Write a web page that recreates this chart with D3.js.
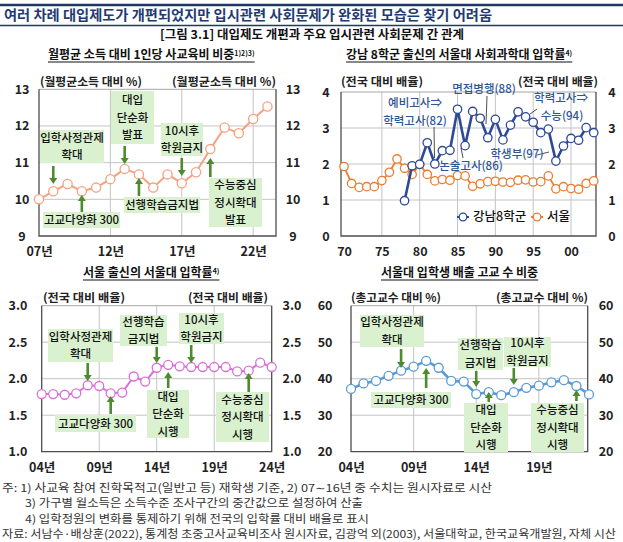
<!DOCTYPE HTML>
<html>
  <head>
    <meta charset="utf-8">
    <title>대입제도 개편과 주요 입시관련 사회문제 간 관계</title>
    <style>
      body { margin: 0; background: #fff; }
      svg text { font-family: 'Noto Sans CJK KR', 'Noto Sans', sans-serif; }
    </style>
  </head>
  <body>
    <script src="https://cdn.jsdelivr.net/npm/d3@7"></script>
    <script>
      // 월평균 소득 대비 1인당 사교육비 비중 (%)
      var incomeYears = [2007, 2008, 2009, 2010, 2011, 2012, 2013, 2014, 2015, 2016, 2017, 2018, 2019, 2020, 2021, 2022, 2023];
      var incomeShare = [10.0, 10.22, 10.42, 10.22, 10.32, 10.55, 10.83, 10.68, 10.32, 10.68, 10.44, 10.74, 11.37, 11.96, 11.8, 12.19, 12.53];

      // 강남 8학군 / 서울 출신 서울대 사회과학대 입학률 (전국 대비 배율)
      var snuYears = [1970, 1971, 1972, 1973, 1974, 1975, 1976, 1977, 1978, 1979, 1980, 1981, 1982, 1983, 1984, 1985, 1986,
        1987, 1988, 1989, 1990, 1991, 1992, 1993, 1994, 1995, 1996, 1997, 1998, 1999, 2000, 2001, 2002, 2003];
      var seoulRatio = [1.93, 1.46, 1.35, 1.37, 1.37, 1.54, 1.77, 2.14, 1.88, 1.71, 1.99, 1.71, 1.53, 1.57, 1.55, 1.68, 1.67,
        1.38, 1.45, 1.51, 1.52, 1.50, 1.49, 1.55, 1.56, 1.50, 1.51, 1.67, 1.31, 1.37, 1.32, 1.30, 1.46, 1.53];
      var gangnamYears = [1978, 1979, 1980, 1981, 1982, 1983, 1984, 1985, 1986, 1987, 1988, 1989, 1990,
        1991, 1992, 1993, 1994, 1995, 1996, 1997, 1998, 1999, 2000, 2001, 2002, 2003];
      var gangnamRatio = [0.98, 1.95, 1.99, 2.59, 2.0, 2.37, 2.38, 3.52, 2.51, 3.46, 3.27, 2.73, 3.24,
        2.67, 3.08, 3.45, 3.31, 3.16, 2.87, 2.97, 2.08, 2.5, 2.71, 2.66, 3.01, 2.87];

      // 서울 출신의 서울대 입학률 (전국 대비 배율)
      var seoulYears = [2004, 2005, 2006, 2007, 2008, 2009, 2010, 2011, 2012, 2013, 2014, 2015, 2016, 2017, 2018, 2019, 2020, 2021, 2022, 2023, 2024];
      var seoulSnuRatio = [1.79, 1.79, 1.78, 1.80, 1.91, 1.90, 1.80, 1.81, 2.03, 1.96, 2.15, 2.19, 2.17, 2.16, 2.16, 2.16, 2.16, 2.10, 2.11, 2.22, 2.16];

      // 서울대 입학생 배출 고교 수 비중 (%)
      var schoolYears = [2004, 2005, 2006, 2007, 2008, 2009, 2010, 2011, 2012, 2013, 2014, 2015, 2016, 2017, 2018, 2019, 2020, 2021, 2022, 2023];
      var schoolShare = [37.2, 38.7, 39.4, 40.8, 42.2, 43.3, 44.9, 43.0, 39.4, 39.2, 35.8, 36.3, 35.5, 36.3, 37.5, 38.1, 39.0, 39.6, 38.0, 35.7];

      var footnotes = [
        '주: 1) 사교육 참여 진학목적고(일반고 등) 재학생 기준,   2) 07∼16년 중 수치는 원시자료로 시산',
        '3) 가구별 월소득은 소득수준 조사구간의 중간값으로 설정하여 산출',
        '4) 입학정원의 변화를 통제하기 위해 전국의 입학률 대비 배율로 표시',
        '자료: 서남수·배상훈(2022), 통계청 초중고사교육비조사 원시자료, 김광억 외(2003), 서울대학교, 한국교육개발원, 자체 시산'
      ];

      var boxFill = '#d9f1cf',
        arrowColor = '#4e8a2e';

      var svg = d3.select('body').append('svg')
          .attr('width', 623)
          .attr('height', 542);

      // header
      svg.append('line').attr('x1', 0).attr('x2', 623).attr('y1', 5).attr('y2', 5)
        .attr('stroke', '#1f3864').attr('stroke-width', 2.5);
      svg.append('line').attr('x1', 0).attr('x2', 623).attr('y1', 25.5).attr('y2', 25.5)
        .attr('stroke', '#1f3864').attr('stroke-width', 1.5);
      svg.append('text')
        .attr('x', 4).attr('y', 15).attr('dy', '0.35em')
        .attr('textLength', 488).attr('lengthAdjust', 'spacingAndGlyphs')
        .style('font-size', '14px').style('font-weight', 700).style('fill', '#1f3b73')
        .text('여러 차례 대입제도가 개편되었지만 입시관련 사회문제가 완화된 모습은 찾기 어려움');
      svg.append('text')
        .attr('x', 160).attr('y', 35).attr('dy', '0.35em')
        .attr('textLength', 304).attr('lengthAdjust', 'spacingAndGlyphs')
        .style('font-size', '12px').style('font-weight', 700).style('fill', '#111')
        .text('[그림 3.1] 대입제도 개편과 주요 입시관련 사회문제 간 관계');

      function panelTitle(x, y, width, label, sup) {
        var t = svg.append('text')
          .attr('x', x).attr('y', y).attr('dy', '0.35em')
          .style('font-size', '12px').style('font-weight', 700).style('fill', '#111');
        t.append('tspan').text(label);
        if (sup) {
          t.append('tspan').attr('dy', '-0.45em')
            .style('font-size', '7px').text(sup);
        }
        var len = t.node().getComputedTextLength();
        if (len > width) {
          t.attr('textLength', width).attr('lengthAdjust', 'spacingAndGlyphs');
          len = width;
        }
        svg.append('line')
          .attr('x1', x).attr('x2', x + len)
          .attr('y1', y + 7).attr('y2', y + 7)
          .attr('stroke', '#111').attr('stroke-width', 1);
      }

      function panel(cfg) {
        var x = d3.scaleLinear().domain(cfg.xDomain).range([cfg.left, cfg.right]);
        var y = d3.scaleLinear().domain(cfg.yDomain).range([cfg.bottom, cfg.top]);
        var g = svg.append('g');

        g.selectAll('line.hgrid')
            .data(cfg.yGrid)
          .enter().append('line')
            .attr('class', 'hgrid')
            .attr('x1', cfg.left).attr('x2', cfg.right)
            .attr('y1', function(d) { return y(d); })
            .attr('y2', function(d) { return y(d); })
            .attr('stroke', '#c4c4c4').attr('stroke-width', 1);

        g.selectAll('line.vgrid')
            .data(cfg.xGrid)
          .enter().append('line')
            .attr('class', 'vgrid')
            .attr('y1', cfg.top).attr('y2', cfg.bottom)
            .attr('x1', function(d) { return x(d); })
            .attr('x2', function(d) { return x(d); })
            .attr('stroke', '#c4c4c4').attr('stroke-width', 1);

        // frame: lighter top, darker other sides
        g.append('line').attr('x1', cfg.left).attr('x2', cfg.right).attr('y1', cfg.top).attr('y2', cfg.top)
          .attr('stroke', '#a6a6a6');
        g.append('path')
          .attr('d', 'M' + cfg.left + ',' + cfg.top + 'V' + cfg.bottom + 'H' + cfg.right + 'V' + cfg.top)
          .attr('fill', 'none').attr('stroke', '#4d4d4d').attr('stroke-width', 1.3);

        var xAxis = g.append('g')
          .attr('transform', 'translate(0,' + cfg.xLabelY + ')')
          .call(d3.axisBottom(x).tickValues(cfg.xTicks).tickFormat(cfg.xFormat).tickSize(0));
        xAxis.select('.domain').remove();
        xAxis.selectAll('text').attr('y', 0).attr('dy', '0.35em');

        [cfg.yLeftX, cfg.yRightX].forEach(function(pos) {
          var a = g.append('g')
            .attr('transform', 'translate(' + pos + ',0)')
            .call(d3.axisLeft(y).tickValues(cfg.yTicks).tickFormat(cfg.yFormat).tickSize(0).tickPadding(0));
          a.select('.domain').remove();
          a.selectAll('text').attr('x', 0).attr('text-anchor', 'middle');
        });

        g.selectAll('.tick text')
          .style('font-family', "'Noto Sans CJK KR', 'Noto Sans', sans-serif")
          .style('font-size', '12.5px').style('font-weight', 700).style('fill', '#222');

        cfg.units.forEach(function(u) {
          g.append('text')
            .attr('x', u[0]).attr('y', cfg.unitY).attr('dy', '0.35em')
            .attr('textLength', u[1]).attr('lengthAdjust', 'spacingAndGlyphs')
            .style('font-size', '11.5px').style('font-weight', 700).style('fill', '#222')
            .text(u[2]);
        });

        return { x: x, y: y, g: g };
      }

      function series(p, years, values, color, width, r) {
        var pts = years.map(function(d, i) { return [d, values[i]]; });
        var line = d3.line()
          .x(function(d) { return p.x(d[0]); })
          .y(function(d) { return p.y(d[1]); });
        p.g.append('path')
          .datum(pts)
          .attr('d', line)
          .attr('fill', 'none')
          .attr('stroke', color)
          .attr('stroke-width', width)
          .attr('stroke-linejoin', 'round');
        p.g.append('g').selectAll('circle')
            .data(pts)
          .enter().append('circle')
            .attr('cx', function(d) { return p.x(d[0]); })
            .attr('cy', function(d) { return p.y(d[1]); })
            .attr('r', r)
            .attr('fill', '#fff')
            .attr('stroke', color)
            .attr('stroke-width', 1.3);
      }

      // green note box with an arrow pointing at a year
      function note(p, n) {
        var b = n.box, lh = 17.5;
        p.g.append('rect')
          .attr('x', b[0]).attr('y', b[1]).attr('width', b[2]).attr('height', b[3])
          .attr('fill', boxFill);
        var cy = b[1] + b[3] / 2 - (n.lines.length - 1) * lh / 2;
        n.lines.forEach(function(t, i) {
          p.g.append('text')
            .attr('x', b[0] + b[2] / 2).attr('y', cy + i * lh).attr('dy', '0.36em')
            .attr('text-anchor', 'middle')
            .style('font-size', '11.5px').style('font-weight', 500).style('fill', '#111')
            .text(t);
        });
        var ax = p.x(n.year), y0 = n.arrow[0], y1 = n.arrow[1];
        var dir = y1 > y0 ? 1 : -1, head = 6;
        p.g.append('line')
          .attr('x1', ax).attr('x2', ax).attr('y1', y0).attr('y2', y1 - dir * head)
          .attr('stroke', arrowColor).attr('stroke-width', 2.6);
        p.g.append('path')
          .attr('d', 'M' + (ax - 4) + ',' + (y1 - dir * head) + 'L' + (ax + 4) + ',' + (y1 - dir * head) + 'L' + ax + ',' + y1 + 'Z')
          .attr('fill', arrowColor);
      }

      function shortYear(d) { return String(d).slice(2) + '년'; }

      // ---- panel 1
      panelTitle(48, 55, 220, '월평균 소득 대비 1인당 사교육비 비중', '1)2)3)');
      var p1 = panel({
        xDomain: [2007, 2023.6], left: 39, right: 276,
        yDomain: [9, 13], top: 89.3, bottom: 236,
        yTicks: [9, 10, 11, 12, 13], yFormat: d3.format('d'), yLeftX: 22, yRightX: 293,
        xTicks: [2007, 2012, 2017, 2022], xFormat: shortYear, xLabelY: 252,
        xGrid: [2012, 2017, 2022], yGrid: [10, 11, 12],
        unitY: 82, units: [[40, 102, '(월평균소득 대비 %)'], [172, 104, '(월평균소득 대비 %)']]
      });
      series(p1, incomeYears, incomeShare, '#f4a27f', 2, 4.6);
      [
        { lines: ['입학사정관제', '확대'], box: [40, 130, 64, 33], year: 2008, arrow: [166, 184] },
        { lines: ['고교다양화 300'], box: [43, 212, 77, 16], year: 2010, arrow: [212, 195] },
        { lines: ['대입', '단순화', '발표'], box: [111, 91, 43, 53], year: 2013, arrow: [146, 164] },
        { lines: ['선행학습금지법'], box: [124, 197, 76, 16], year: 2014, arrow: [196, 178] },
        { lines: ['10시후', '학원금지'], box: [161, 123, 42, 33], year: 2017, arrow: [158, 176] },
        { lines: ['수능중심', '정시확대', '발표'], box: [209, 178, 53, 49], year: 2019, arrow: [177, 158] }
      ].forEach(function(n) { note(p1, n); });

      // ---- panel 2
      panelTitle(346, 55, 245, '강남 8학군 출신의 서울대 사회과학대 입학률', '4)');
      var p2 = panel({
        xDomain: [1969.6, 2003.3], left: 341, right: 596,
        yDomain: [0, 4], top: 92, bottom: 236,
        yTicks: [0, 1, 2, 3, 4], yFormat: d3.format('d'), yLeftX: 326, yRightX: 612,
        xTicks: [1970, 1975, 1980, 1985, 1990, 1995, 2000], xFormat: function(d) { return String(d).slice(2); }, xLabelY: 252,
        xGrid: [1975, 1980, 1985, 1990, 1995, 2000], yGrid: [1, 2, 3],
        unitY: 82, units: [[341, 82, '(전국 대비 배율)'], [518, 80, '(전국 대비 배율)']]
      });
      series(p2, snuYears, seoulRatio, '#ed7d31', 1.8, 4.2);
      series(p2, gangnamYears, gangnamRatio, '#2e4a96', 2.6, 4.2);

      var leaders = [[434, 127, 434.5, 158], [487, 96, 486, 124], [537, 109, 530, 114], [463, 158, 461, 148], [537, 155, 549, 152]];
      leaders.forEach(function(l) {
        p2.g.append('line')
          .attr('x1', l[0]).attr('y1', l[1]).attr('x2', l[2]).attr('y2', l[3])
          .attr('stroke', '#222').attr('stroke-width', 0.8);
      });
      [
        ['예비고사⇒', 415, 103], ['학력고사(82)', 415, 121], ['면접병행(88)', 484, 89],
        ['학력고사⇒', 561, 98], ['수능(94)', 562, 116], ['논술고사(86)', 471, 166], ['학생부(97)', 517, 154]
      ].forEach(function(t) {
        p2.g.append('text')
          .attr('x', t[1]).attr('y', t[2]).attr('dy', '0.35em')
          .attr('text-anchor', 'middle')
          .style('font-size', '11.5px').style('font-weight', 500).style('fill', '#2f5597')
          .text(t[0]);
      });

      // legend
      [[463, '#2e4a96', '강남8학군'], [537, '#ed7d31', '서울']].forEach(function(l) {
        p2.g.append('line')
          .attr('x1', l[0] - 6).attr('x2', l[0] + 6).attr('y1', 217).attr('y2', 217)
          .attr('stroke', l[1]).attr('stroke-width', 2);
        p2.g.append('circle')
          .attr('cx', l[0]).attr('cy', 217).attr('r', 3.8)
          .attr('fill', '#fff').attr('stroke', l[1]).attr('stroke-width', 1.3);
        p2.g.append('text')
          .attr('x', l[0] + 10).attr('y', 217).attr('dy', '0.35em')
          .style('font-size', '12.5px').style('font-weight', 500).style('fill', '#111')
          .text(l[2]);
      });

      // ---- panel 3
      panelTitle(83, 273, 147, '서울 출신의 서울대 입학률', '4)');
      var p3 = panel({
        xDomain: [2004, 2024], left: 41.7, right: 271.7,
        yDomain: [1, 3], top: 305.7, bottom: 451.7,
        yTicks: [1, 1.5, 2, 2.5, 3], yFormat: d3.format('.1f'), yLeftX: 18, yRightX: 292,
        xTicks: [2004, 2009, 2014, 2019, 2024], xFormat: shortYear, xLabelY: 468,
        xGrid: [2009, 2014, 2019], yGrid: [1.5, 2, 2.5],
        unitY: 298, units: [[43, 82, '(전국 대비 배율)'], [188, 80, '(전국 대비 배율)']]
      });
      series(p3, seoulYears, seoulSnuRatio, '#d970d6', 2, 4.5);
      [
        { lines: ['입학사정관제', '확대'], box: [48, 329, 65, 33], year: 2008, arrow: [363, 381] },
        { lines: ['고교다양화 300'], box: [55, 415, 81, 17], year: 2010, arrow: [414, 396] },
        { lines: ['선행학습', '금지법'], box: [120, 315, 47, 31], year: 2014, arrow: [347, 363] },
        { lines: ['대입', '단순화', '시행'], box: [147, 390, 42, 48], year: 2015, arrow: [388, 372] },
        { lines: ['10시후', '학원금지'], box: [179, 313, 45, 31], year: 2017, arrow: [345, 363] },
        { lines: ['수능중심', '정시확대', '시행'], box: [216, 392, 53, 50], year: 2022, arrow: [392, 373] }
      ].forEach(function(n) { note(p3, n); });

      // ---- panel 4
      panelTitle(381, 273, 177, '서울대 입학생 배출 고교 수 비중');
      var p4 = panel({
        xDomain: [2004, 2022.9], left: 351, right: 587.7,
        yDomain: [20, 60], top: 305.7, bottom: 451.7,
        yTicks: [20, 30, 40, 50, 60], yFormat: d3.format('d'), yLeftX: 325, yRightX: 606,
        xTicks: [2004, 2009, 2014, 2019], xFormat: shortYear, xLabelY: 468,
        xGrid: [2009, 2014, 2019], yGrid: [30, 40, 50],
        unitY: 298, units: [[351, 90, '(총고교수 대비 %)'], [496, 92, '(총고교수 대비 %)']]
      });
      series(p4, schoolYears, schoolShare, '#5b9bd5', 2.6, 4.5);
      [
        { lines: ['입학사정관제', '확대'], box: [360, 315, 64, 32], year: 2008, arrow: [349, 368] },
        { lines: ['고교다양화 300'], box: [371, 392, 80, 16], year: 2010, arrow: [388, 368] },
        { lines: ['선행학습', '금지법'], box: [458, 338, 45, 32], year: 2014, arrow: [371, 387] },
        { lines: ['대입', '단순화', '시행'], box: [464, 403, 44, 49], year: 2015, arrow: [402, 392] },
        { lines: ['10시후', '학원금지'], box: [504, 337, 47, 30], year: 2017, arrow: [368, 385] },
        { lines: ['수능중심', '정시확대', '시행'], box: [531, 403, 53, 49], year: 2022, arrow: [401, 390] }
      ].forEach(function(n) { note(p4, n); });

      // ---- footnotes
      var footX = [2, 25, 25, 2],
        footW = [490, 338, 344, 614];
      svg.selectAll('text.foot')
          .data(footnotes)
        .enter().append('text')
          .attr('class', 'foot')
          .attr('x', function(d, i) { return footX[i]; })
          .attr('y', function(d, i) { return 488 + i * 15.5; })
          .attr('dy', '0.35em')
          .attr('textLength', function(d, i) { return footW[i]; })
          .attr('lengthAdjust', 'spacingAndGlyphs')
          .style('font-size', '11px').style('fill', '#333')
          .text(function(d) { return d; });
    </script>
  </body>
</html>
